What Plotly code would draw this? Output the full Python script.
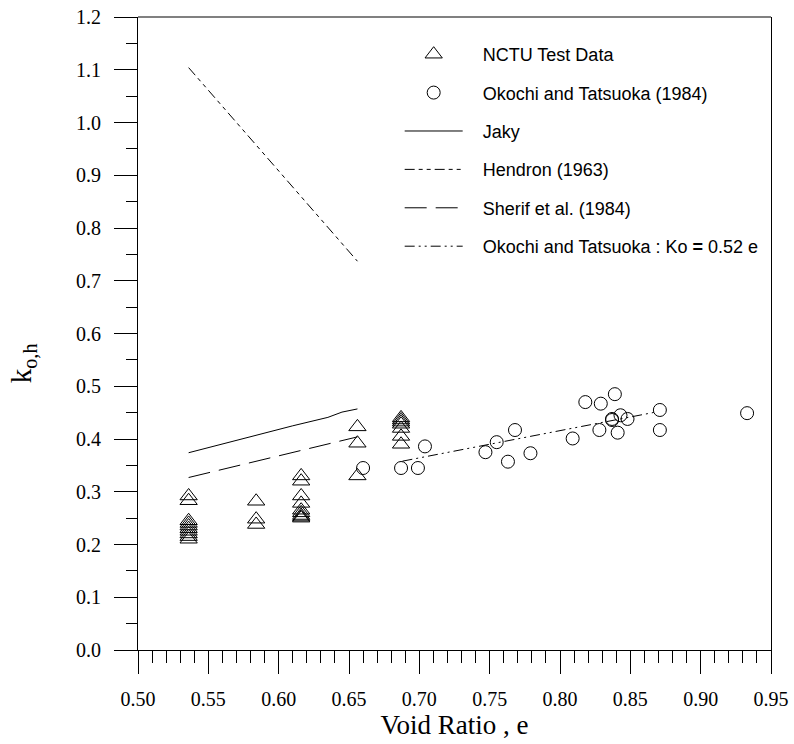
import plotly.graph_objects as go

# ---- data ----
nctu_e = [0.536, 0.536, 0.536, 0.536, 0.536, 0.536, 0.536, 0.536, 0.536, 0.536,
          0.584, 0.584, 0.584,
          0.616, 0.616, 0.616, 0.616, 0.616, 0.616, 0.616, 0.616, 0.616,
          0.656, 0.656, 0.656,
          0.687, 0.687, 0.687, 0.687, 0.687, 0.687, 0.687]
nctu_k = [0.292, 0.283, 0.245, 0.240, 0.235, 0.230, 0.225, 0.220, 0.215, 0.210,
          0.282, 0.248, 0.238,
          0.330, 0.320, 0.292, 0.278, 0.265, 0.260, 0.255, 0.252, 0.250,
          0.423, 0.392, 0.330,
          0.440, 0.436, 0.432, 0.428, 0.420, 0.405, 0.390]

okochi_e = [0.660, 0.687, 0.699, 0.704, 0.747, 0.755, 0.763, 0.768, 0.779,
            0.809, 0.818, 0.828, 0.829, 0.837, 0.837, 0.839, 0.841, 0.843,
            0.848, 0.871, 0.871, 0.933]
okochi_k = [0.345, 0.345, 0.345, 0.386, 0.375, 0.394, 0.357, 0.417, 0.373,
            0.401, 0.470, 0.417, 0.467, 0.436, 0.438, 0.485, 0.412, 0.445,
            0.438, 0.455, 0.417, 0.449]

jaky_e = [0.536, 0.560, 0.585, 0.610, 0.635, 0.645, 0.656]
jaky_k = [0.374, 0.391, 0.408, 0.425, 0.441, 0.451, 0.457]

hendron_e = [0.536, 0.656]
hendron_k = [1.104, 0.737]

sherif_e = [0.536, 0.656]
sherif_k = [0.327, 0.404]

okfit_e = [0.688, 0.868]
okfit_k = [0.358, 0.451]

x_ticks = [0.50, 0.55, 0.60, 0.65, 0.70, 0.75, 0.80, 0.85, 0.90, 0.95]
y_ticks = [0.0, 0.1, 0.2, 0.3, 0.4, 0.5, 0.6, 0.7, 0.8, 0.9, 1.0, 1.1, 1.2]

names = ["NCTU Test Data", "Okochi and Tatsuoka (1984)", "Jaky", "Hendron (1963)",
         "Sherif et al. (1984)", "Okochi and Tatsuoka : Ko <b>=</b> 0.52 e"]
pad = "\u00a0\u00a0\u00a0"

# ---- figure ----
fig = go.Figure()
fig.add_trace(go.Scatter(x=nctu_e, y=nctu_k, mode="markers", name=pad + names[0],
                         legendgroup="a",
                         marker=dict(symbol="triangle-up-open", size=15,
                                     color="black", line=dict(width=1, color="black"))))
fig.add_trace(go.Scatter(x=okochi_e, y=okochi_k, mode="markers",
                         name=pad + names[1], legendgroup="b",
                         marker=dict(symbol="circle-open", size=13,
                                     color="black", line=dict(width=1, color="black"))))
fig.add_trace(go.Scatter(x=jaky_e, y=jaky_k, mode="lines", name=pad + names[2],
                         legendgroup="c",
                         line=dict(color="black", width=1)))
fig.add_trace(go.Scatter(x=hendron_e, y=hendron_k, mode="lines", name=pad + names[3],
                         legendgroup="d",
                         line=dict(color="black", width=1,
                                   dash="10px,4px,4px,4px,4px,4px")))
fig.add_trace(go.Scatter(x=sherif_e, y=sherif_k, mode="lines", name=pad + names[4],
                         legendgroup="e",
                         line=dict(color="black", width=1, dash="22px,9px")))
fig.add_trace(go.Scatter(x=okfit_e, y=okfit_k, mode="lines",
                         name=pad + names[5], legendgroup="f",
                         line=dict(color="black", width=1,
                                   dash="10px,4px,2px,4px,2px,4px")))

serif = "Liberation Serif, Times New Roman, serif"
sans = "Liberation Sans, Arial, sans-serif"

fig.update_layout(
    width=794, height=744,
    margin=dict(l=138, r=23, t=17, b=94, autoexpand=False),
    paper_bgcolor="white", plot_bgcolor="white",
    showlegend=True,
    legend=dict(x=0.4134, y=0.970, xanchor="left", yanchor="top",
                font=dict(family=sans, size=18, color="black"),
                bgcolor="rgba(0,0,0,0)", traceorder="grouped",
                tracegroupgap=12, itemwidth=58),
    xaxis=dict(range=[0.5, 0.95], tickvals=x_ticks, tickformat=".2f",
               automargin=False, ticklabeloverflow="allow",
               showgrid=False, zeroline=False,
               showline=True, linecolor="black", linewidth=1,
               ticks="outside", ticklen=23, tickcolor="black", tickwidth=1,
               ticklabelstandoff=8,
               minor=dict(dtick=0.01, ticks="outside", ticklen=12,
                          tickcolor="black", tickwidth=1, showgrid=False),
               tickfont=dict(family=serif, size=20, color="black"),
               title=dict(text="Void Ratio , e", standoff=3,
                          font=dict(family=serif, size=27, color="black"))),
    yaxis=dict(range=[0, 1.2], tickvals=y_ticks, tickformat=".1f",
               automargin=False, ticklabeloverflow="allow",
               showgrid=False, zeroline=False,
               showline=True, linecolor="black", linewidth=1, mirror=True,
               ticks="outside", ticklen=23, tickcolor="black", tickwidth=1,
               ticklabelstandoff=9,
               minor=dict(dtick=0.05, ticks="outside", ticklen=11,
                          tickcolor="black", tickwidth=1, showgrid=False),
               tickfont=dict(family=serif, size=20, color="black")),
    shapes=[dict(type="line", xref="paper", yref="paper", x0=0, x1=1, y0=1, y1=1,
                 line=dict(color="#808080", width=2))],
    annotations=[dict(text="k<sub>o,h</sub>", xref="paper", yref="paper",
                      x=-0.1816, y=0.453, xanchor="center", yanchor="middle",
                      textangle=-90, showarrow=False,
                      font=dict(family=serif, size=29, color="black"))],
)

# remove the browser's default 8px body margin so the figure sits at (0, 0)
fig.write_html("out.html",
               config={"displayModeBar": False},
               post_script="document.body.style.margin='0';"
                           "document.body.style.overflow='hidden';")
